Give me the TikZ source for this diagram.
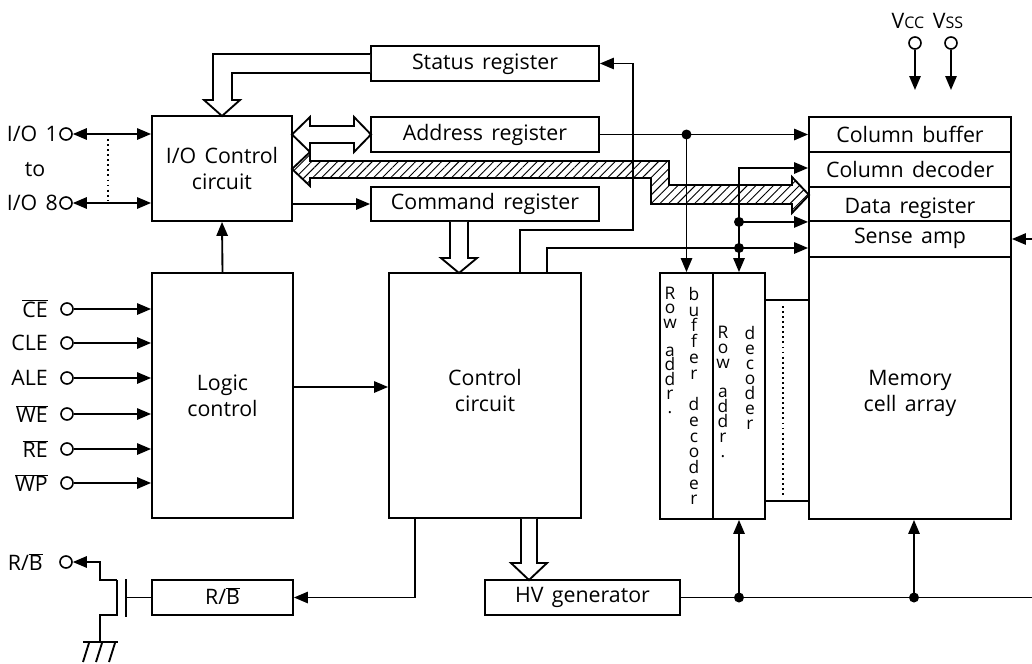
\documentclass[tikz,border=0pt]{standalone}
\usepackage{fontspec}
\setmainfont{Open Sans}[WordSpace=1.5]
\usetikzlibrary{arrows.meta,patterns.meta,fit}
\begin{document}
\begin{tikzpicture}[x=0.75pt,y=-0.75pt,
  ln/.style={line width=1.4pt},
  box/.style={draw,line width=1.4pt,inner sep=0pt},
  txt/.style={font=\fontsize{16}{19.5}\selectfont,inner sep=0pt,align=center},
  arr/.style={line width=1.4pt,-{Triangle[length=10.5pt,width=8.5pt]}},
  arrb/.style={line width=1.4pt,{Triangle[length=10.5pt,width=8.5pt]}-{Triangle[length=10.5pt,width=8.5pt]}},
  pin/.style={circle,draw,line width=1.2pt,fill=white,minimum size=9pt,inner sep=0pt},
  dot/.style={circle,fill=black,minimum size=7.5pt,inner sep=0pt},
  lbl/.style={font=\fontsize{16}{19.5}\selectfont,inner sep=0pt},
  stack/.style={font=\fontsize{13}{#1}\selectfont,align=center,inner sep=0pt,anchor=north},
  hollow/.style={draw,line width=1.4pt,fill=white,line join=miter},
  dots/.style={line width=1.4pt,dash pattern=on 1.4pt off 2.4pt}
]
\useasboundingbox (0,0) rectangle (1032,664);

% ---------- boxes ----------
\node[box,fit={(152,116) (292,221)}] (ioc) {};
\node[box,fit={(152,273) (293,518)}] (logic) {};
\node[box,fit={(389,273) (581,518)}] (ctrl) {};
\node[box,fit={(371,46) (599,81)}] (status) {};
\node[box,fit={(371,117) (599,152)}] (addr) {};
\node[box,fit={(371,187) (599,221)}] (cmd) {};
\node[box,fit={(809,117) (1011,152)}] (colbuf) {};
\node[box,fit={(809,152) (1011,187)}] (coldec) {};
\node[box,fit={(809,187) (1011,221)}] (datareg) {};
\node[box,fit={(809,221) (1011,257)}] (sense) {};
\node[box,fit={(809,257) (1011,519)}] (cell) {};
\node[box,fit={(660,273) (713,519)}] (rowbuf) {};
\node[box,fit={(713,273) (765,519)}] (rowdec) {};
\node[box,fit={(152,580) (293,615)}] (rb) {};
\node[box,fit={(485,580) (680,615)}] (hv) {};

% ---------- box texts ----------
\node[txt] (tioc) at (ioc.center |- 0,168) {I/O Control\\circuit};
\node[txt] (tlogic) at (logic.center |- 0,396) {Logic\\control};
\node[txt] (tctrl) at (ctrl.center |- 0,390) {Control\\circuit};
\node[txt] (tstatus) at (status.center |- 0,64) {Status register};
\node[txt] (taddr) at (addr.center |- 0,134.5) {Address register};
\node[txt] (tcmd) at (cmd.center |- 0,204) {Command register};
\node[txt] (tcolbuf) at (colbuf.center |- 0,134.5) {Column buffer};
\node[txt] (tcoldec) at (coldec.center |- 0,169.5) {Column decoder};
\node[txt] (tdatareg) at (datareg.center |- 0,208) {Data register};
\node[txt] (tsense) at (sense.center |- 0,238) {Sense amp};
\node[txt] (tcell) at (cell.center |- 0,393) {Memory\\cell array};
\node[txt] (trb) at (rb.center |- 0,596) {R/$\overline{\hbox{B}}$};
\node[txt] (thv) at (hv.center |- 0,597) {HV generator};

% stacked texts in the row boxes
\node[stack=10.7pt] (t1) at (670,287) {R\\o\\w\\\mbox{}\\a\\d\\d\\r\\.};
\node[stack=11.8pt] (t2) at (694,287) {b\\u\\f\\f\\e\\r\\\mbox{}\\d\\e\\c\\o\\d\\e\\r};
\node[stack=11.1pt] (t3) at (723,326) {R\\o\\w\\\mbox{}\\a\\d\\d\\r\\.};
\node[stack=11.3pt] (t4) at (750,326) {d\\e\\c\\o\\d\\e\\r};

% link between row decoder and memory array
\draw[ln] (rowdec.east |- 0,300) -- (cell.west |- 0,300);
\draw[ln] (rowdec.east |- 0,501) -- (cell.west |- 0,501);
\draw[dots] (783,306) -- (783,497);

% ---------- hollow and hatched buses ----------
\draw[hollow] (status.west |- 0,54) -- (213,54) -- (213,100) -- (204,100) -- (222,116) -- (240,100) -- (232,100) -- (232,73) -- (status.west |- 0,73);
\draw[hollow] (292,134.5) -- (310,117) -- (310,126) -- (354,126) -- (354,117) -- (371,134.5) -- (354,152) -- (354,143) -- (310,143) -- (310,152) -- cycle;
\fill[white] (292,169) -- (310,152) -- (310,161) -- (669,161) -- (669,185) -- (792,185) -- (792,177) -- (809,195) -- (792,213) -- (792,204) -- (651,204) -- (651,178) -- (310,178) -- (310,186) -- cycle;
\draw[line width=1.4pt,line join=miter,pattern={Lines[angle=45,distance=4.6pt,line width=0.7pt]}] (292,169) -- (310,152) -- (310,161) -- (669,161) -- (669,185) -- (792,185) -- (792,177) -- (809,195) -- (792,213) -- (792,204) -- (651,204) -- (651,178) -- (310,178) -- (310,186) -- cycle;
\draw[hollow] (cmd.south -| 450,0) -- (450,258) -- (441,258) -- (459,273) -- (477,258) -- (468,258) -- (cmd.south -| 468,0);
\draw[hollow] (ctrl.south -| 521,0) -- (521,563) -- (511,563) -- (529,580) -- (547,563) -- (537,563) -- (ctrl.south -| 537,0);

% ---------- I/O pins ----------
\node[pin] (io1) at (66,134) {};
\node[pin] (io8) at (66,203) {};
\node[lbl,anchor=east] (lio1) at (58,134) {I/O 1};
\node[lbl,anchor=east] (lio8) at (58,203) {I/O 8};
\node[lbl] (lto) at (35,170) {to};
\draw[arrb] (io1) -- (io1 -| ioc.west);
\draw[arrb] (io8) -- (io8 -| ioc.west);
\draw[dots] (108,139) -- (108,200);

% ---------- control pins ----------
\foreach \n/\yy/\t in {ce/309/{$\overline{\hbox{CE}}$},cle/343/CLE,ale/378/ALE,we/414/{$\overline{\hbox{WE}}$},re/449/{$\overline{\hbox{RE}}$},wp/483/{$\overline{\hbox{WP}}$}}{
  \node[pin] (\n) at (67,\yy) {};
  \node[lbl,anchor=east] (l\n) at (48,\yy) {\t};
  \draw[arr] (\n) -- (\n -| logic.west);
}

% ---------- internal connectors ----------
\draw[arr] (logic.north) -- (ioc.south);
\draw[arr] (logic.east |- 0,387) -- (ctrl.west |- 0,387);
\draw[arr] (ioc.east |- 0,204) -- (cmd.west |- 0,204);
\draw[arr] (ctrl.north -| 520,0) |- (633,230) |- (status.east);
\draw[arr] (ctrl.north -| 547,0) |- (sense.west |- 0,248);
\draw[arr] (addr.east) -- (colbuf.west);
\node[dot] (d1) at (rowbuf.north |- addr.east) {};
\draw[arr] (d1.center) -- (rowbuf.north);
\draw[arrb] (coldec.west |- 0,168) -| (rowdec.north);
\node[dot] (d2) at (rowdec.north |- datareg.south) {};
\node[dot] (d3) at (rowdec.north |- 0,248) {};
\draw[arr] (d2.center) -- (datareg.south west);

% ---------- power pins ----------
\node[pin] (vcc) at (915,43) {};
\node[pin] (vss) at (951,43) {};
\node[lbl,anchor=base] (lvcc) at (908,28) {V{\fontsize{12}{14}\selectfont CC}};
\node[lbl,anchor=base] (lvss) at (948,28) {V{\fontsize{12}{14}\selectfont SS}};
\coordinate (vccend) at (915,90);
\coordinate (vssend) at (951,90);
\draw[arr] (vcc) -- (vccend);
\draw[arr] (vss) -- (vssend);
\coordinate (senseedge) at (1032,239);
\draw[arr] (senseedge) -- (sense.east);

% ---------- HV generator line ----------
\coordinate (hvedge) at (1032,597.5);
\draw[ln] (hv.east) -- (hvedge);
\node[dot] (d4) at (rowdec.south |- hv.east) {};
\node[dot] (d5) at (914,597.5) {};
\draw[arr] (d4.center) -- (rowdec.south);
\draw[arr] (d5.center) -- (d5.center |- cell.south);

% ---------- R/B output ----------
\draw[arr] (ctrl.south -| 415,0) |- (rb.east);
\node[pin] (rbpin) at (66,562) {};
\node[lbl,anchor=east] (lrb) at (43,562) {R/$\overline{\hbox{B}}$};
\coordinate (drain) at (117,580);
\coordinate (source) at (117,615);
\coordinate (gnd) at (100,642);
\draw[arr] (drain) -- ++(-17,0) |- (rbpin);
\draw[ln] (drain) -- (source) -- ++(-17,0) -- (gnd);
\draw[ln] (126,579) -- (126,617);
\draw[ln] (rb.west) -- (rb.west -| 126,0);
\draw[ln] (83,642) -- (118,642);
\draw[ln] (89,643) -- (83,662);
\draw[ln] (102,643) -- (96,662);
\draw[ln] (115,643) -- (109,662);
\end{tikzpicture}
\end{document}
